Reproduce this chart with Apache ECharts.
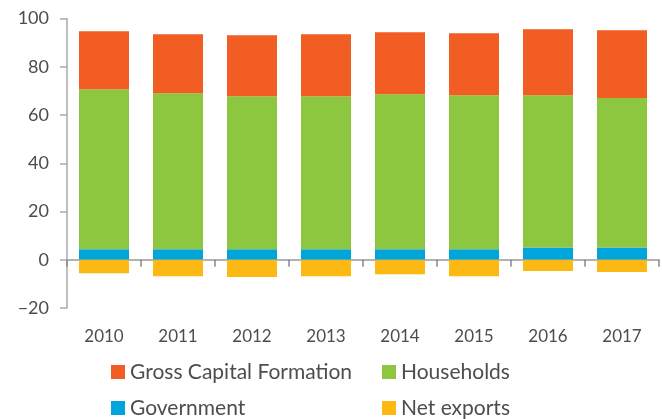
<!DOCTYPE html>
<html>
<head>
<meta charset="utf-8">
<script src="https://cdn.jsdelivr.net/npm/echarts@6/dist/echarts.min.js"></script>
<style>
html,body{margin:0;padding:0;background:#fff;}
#chart{width:662px;height:419px;}
</style>
</head>
<body>
<div id="chart"></div>
<script>
const categories = ['2010','2011','2012','2013','2014','2015','2016','2017'];
const government = [4.4, 4.4, 4.4, 4.4, 4.4, 4.4, 5.1, 5.1];
const households = [66.3, 64.6, 63.4, 63.4, 64.2, 63.8, 63.1, 61.9];
const grossCapitalFormation = [24.0, 24.5, 25.3, 25.7, 25.7, 25.7, 27.3, 28.1];
const netExports = [-5.6, -6.8, -7.2, -6.8, -6.0, -6.8, -4.7, -5.1];
const yTicks = [-20, 0, 20, 40, 60, 80, 100];

const FONT = 'Lato';
const TXT = '#4d4d4d';
const chart = echarts.init(document.getElementById('chart'), null, {renderer: 'canvas'});
const legendText = {fontFamily: FONT, fontSize: 21, color: TXT, lineHeight: 21};
chart.setOption({
  animation: false,
  grid: {left: 67, right: 3, top: 18.5, bottom: 111, containLabel: false},
  legend: [
    {
      orient: 'vertical', left: 111, top: 361.5, height: 80, padding: 0,
      itemWidth: 14, itemHeight: 14, itemGap: 15,
      icon: 'rect', textStyle: legendText,
      data: ['Gross Capital Formation', 'Government']
    },
    {
      orient: 'vertical', left: 382, top: 361.5, height: 80, padding: 0,
      itemWidth: 14, itemHeight: 14, itemGap: 15,
      icon: 'rect', textStyle: legendText,
      data: ['Households', 'Net exports']
    }
  ],
  xAxis: {
    type: 'category',
    data: categories,
    axisLine: {onZero: true, lineStyle: {color: '#999', width: 1.5}},
    axisTick: {show: true, length: 7, lineStyle: {color: '#888', width: 1.5}},
    axisLabel: {margin: 20, fontFamily: FONT, fontSize: 17, color: TXT}
  },
  yAxis: {
    type: 'value',
    min: yTicks[0], max: yTicks[yTicks.length - 1], interval: 20,
    axisLine: {show: true, lineStyle: {color: '#aaa', width: 1.5}},
    axisTick: {show: true, length: 7, lineStyle: {color: '#aaa', width: 1.5}},
    splitLine: {show: false},
    axisLabel: {margin: 18, fontFamily: FONT, fontSize: 18, color: TXT,
      formatter: v => (v < 0 ? '\u2212' + Math.abs(v) : String(v))}
  },
  series: [
    {name: 'Government', type: 'bar', stack: 'a', data: government, barWidth: 50, itemStyle: {color: '#00a6db'}},
    {name: 'Households', type: 'bar', stack: 'a', data: households, barWidth: 50, itemStyle: {color: '#8dc63f'}},
    {name: 'Gross Capital Formation', type: 'bar', stack: 'a', data: grossCapitalFormation, barWidth: 50, itemStyle: {color: '#f15d22'}},
    {name: 'Net exports', type: 'bar', stack: 'a', data: netExports, barWidth: 50, itemStyle: {color: '#fcb813'}}
  ]
});
</script>
</body>
</html>
